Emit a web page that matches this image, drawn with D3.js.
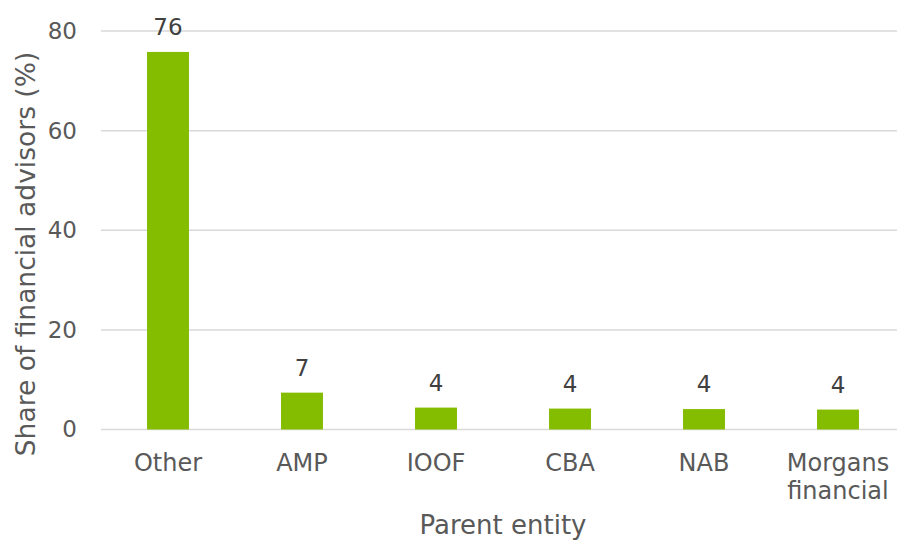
<!DOCTYPE html>
<html>
<head>
<meta charset="utf-8">
<script src="https://cdn.jsdelivr.net/npm/d3@7"></script>
<style>
  body { margin: 0; background: #fff; }
  svg { display: block; font-family: "DejaVu Sans", Verdana, sans-serif; }
</style>
</head>
<body>
<div id="chart"></div>
<script>
// chart data
var categories = ['Other', 'AMP', 'IOOF', 'CBA', 'NAB', 'Morgans financial'];
var shares = [75.8, 7.4, 4.4, 4.2, 4.1, 4.0];
var shareLabels = ['76', '7', '4', '4', '4', '4'];
var yTicks = [0, 20, 40, 60, 80];

var conf = {
    width: 897, height: 540,
    left: 101, right: 905, top: 31, bottom: 429.5,
    barRatio: 0.313
};

var svg = d3.select('#chart')
    .append('svg')
    .attr('width', conf.width)
    .attr('height', conf.height);

var x = d3.scaleBand()
    .domain(categories)
    .range([conf.left, conf.right])
    .padding(0);

var y = d3.scaleLinear()
    .domain([0, 80])
    .range([conf.bottom, conf.top]);

// gridlines
svg.append('g')
    .selectAll('line')
    .data(yTicks).enter().append('line')
    .attr('x1', conf.left)
    .attr('x2', conf.width)
    .attr('y1', function(d) { return y(d); })
    .attr('y2', function(d) { return y(d); })
    .attr('stroke', '#d9d9d9')
    .attr('stroke-width', 1.5);

// y axis tick labels
var yAxis = svg.append('g')
    .attr('transform', 'translate(' + (conf.left - 24) + ',0)')
    .call(d3.axisLeft(y).tickValues(yTicks).tickSize(0).tickPadding(0));
yAxis.select('.domain').remove();
yAxis.selectAll('text')
    .attr('fill', '#595959')
    .style('font-size', '23px')
    .style('font-family', '"DejaVu Sans", Verdana, sans-serif');

var bw = x.bandwidth() * conf.barRatio;

// bars
svg.append('g')
    .selectAll('rect')
    .data(shares).enter().append('rect')
    .attr('x', function(d, i) { return x(categories[i]) + x.bandwidth() / 2 - bw / 2; })
    .attr('y', function(d) { return y(d); })
    .attr('width', bw)
    .attr('height', function(d) { return y(0) - y(d); })
    .attr('fill', '#84bc00');

// value labels
svg.append('g')
    .selectAll('text')
    .data(shares).enter().append('text')
    .text(function(d, i) { return shareLabels[i]; })
    .attr('x', function(d, i) { return x(categories[i]) + x.bandwidth() / 2; })
    .attr('y', function(d) { return y(d) - 17; })
    .attr('text-anchor', 'middle')
    .attr('fill', '#404040')
    .style('font-size', '23px');

// category labels, wrapped on spaces for the long one
var catG = svg.append('g');
categories.forEach(function(c) {
    var words = c.split(' ');
    var t = catG.append('text')
        .attr('x', x(c) + x.bandwidth() / 2)
        .attr('y', 470.5)
        .attr('text-anchor', 'middle')
        .attr('fill', '#595959')
        .style('font-size', '24px');
    words.forEach(function(w, i) {
        t.append('tspan')
            .attr('x', x(c) + x.bandwidth() / 2)
            .attr('dy', i === 0 ? 0 : 28)
            .text(w);
    });
});

// axis titles
svg.append('text')
    .attr('x', (conf.left + conf.right) / 2)
    .attr('y', 534)
    .attr('text-anchor', 'middle')
    .attr('fill', '#595959')
    .style('font-size', '26px')
    .text('Parent entity');

svg.append('text')
    .attr('transform', 'translate(35,254) rotate(-90)')
    .attr('text-anchor', 'middle')
    .attr('fill', '#595959')
    .style('font-size', '26.5px')
    .text('Share of financial advisors (%)');
</script>
</body>
</html>
